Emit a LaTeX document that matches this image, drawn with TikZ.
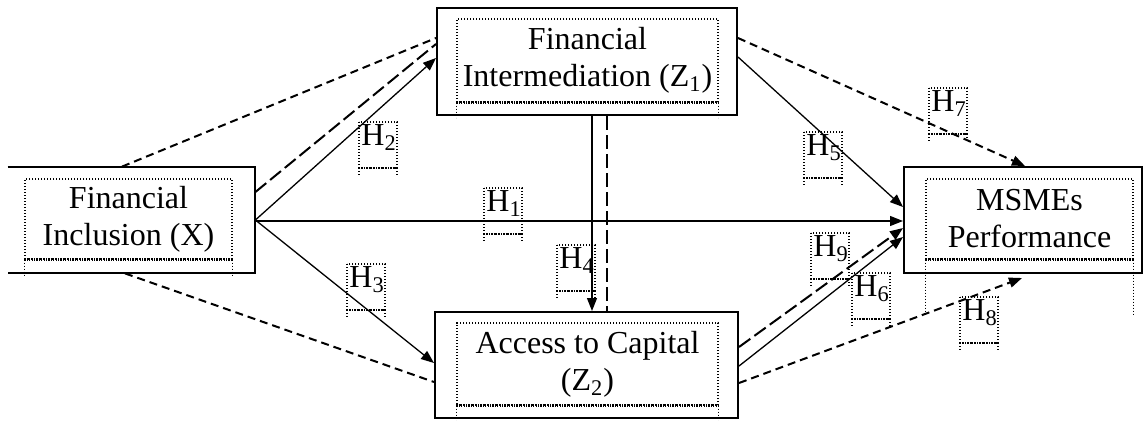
\documentclass[tikz,border=0pt]{standalone}
\usepackage{fontspec}
\setmainfont{Liberation Serif}
\usetikzlibrary{calc}
\usetikzlibrary{arrows.meta}

\tikzset{
  outer/.style={draw,line width=1pt,inner sep=0pt},
  frm/.style={line width=0.7pt,dash pattern=on 0.6pt off 0.9pt},
  frmb/.style={line width=1.4pt,dash pattern=on 0.6pt off 0.6pt},
  txt/.style={draw,frm,align=center,inner sep=0pt,font=\fontsize{16}{18.5}\selectfont},
  hlab/.style={anchor=north west,inner sep=1pt,font=\fontsize{16}{18.5}\selectfont},
  sol/.style={line width=0.65pt,-{Triangle[length=6.5pt,width=5pt]}},
  sdash/.style={line width=1pt,dash pattern=on 4pt off 2.5pt},
  ldash/.style={line width=1pt,dash pattern=on 7pt off 2.5pt},
  tip/.style={-{Triangle[length=6.5pt,width=5pt]}}
}

\begin{document}
\begin{tikzpicture}[x=0.5pt,y=-0.5pt]
\useasboundingbox (0,0) rectangle (1146,420);

% outer boxes
\node[inner sep=0pt,minimum width=123.5pt,minimum height=53pt] (X) at (131.5,220) {};
\draw[line width=1pt] (X.north west)--(X.north east)--(X.south east)--(X.south west);
\node[outer,minimum width=150pt,minimum height=53.5pt] (Z1) at (587,61.5) {};
\node[outer,minimum width=151.5pt,minimum height=53pt] (Z2) at (586.5,365) {};
\node[outer,minimum width=119pt,minimum height=53pt] (Y) at (1023,220) {};

% text frames
\node[txt,minimum width=103.5pt,minimum height=40pt] (Xt) at (128.5,219) {Financial\\Inclusion (X)};
\node[txt,minimum width=130.5pt,minimum height=41.5pt] (Z1t) at (587.5,60.5) {Financial\\Intermediation (Z\textsubscript{1})};
\node[txt,minimum width=130.5pt,minimum height=41pt] (Z2t) at (587.5,364) {Access to Capital\\(Z\textsubscript{2})};
\node[txt,minimum width=103.5pt,minimum height=40pt] (Yt) at (1029.5,219) {MSMEs\\Performance};
\foreach \n/\s in {Xt/16,Z1t/15,Z2t/15,Yt/56}{
  \draw[frmb] (\n.south west)--(\n.south east);
  \draw[frm] (\n.south west)--++(0,\s);
  \draw[frm] (\n.south east)--++(0,\s);
}

% hypothesis labels
\foreach \i/\x/\y in {1/484/188,2/359/122,3/347/264,4/557/245,5/804/132,6/852/273,7/929/88,8/960/297,9/811/233}{
  \node[hlab] (h\i) at (\x,\y) {H\textsubscript{\i}};
  \draw[frm] (\x,\y) rectangle ++(38,46);
  \draw[frmb] (\x,\y+46)--++(38,0);
  \draw[frm] (\x,\y+46)--++(0,8);
  \draw[frm] (\x+38,\y+46)--++(0,8);
}

% X to Z1
\draw[sdash] ($(X.north)+(-9.5,0)$)--($(Z1.west)+(0,-23.5)$);
\draw[ldash] ($(X.east)+(0,-28)$)--($(Z1.west)+(0,-17.5)$);
\draw[sol] (X.east)--($(Z1.west)+(0,-3.5)$);
% X to Z2
\draw[sol] (X.east)--($(Z2.west)+(0,-2)$);
\draw[sdash] ($(X.south)+(-6.5,0)$)--($(Z2.west)+(0,17)$);
% X to Y
\draw[sol] ($(X.east)+(0,1)$)--($(Y.west)+(0,1)$);
% Z1 to Z2
\draw[sol] ($(Z1.south)+(5,0)$)--($(Z2.north)+(5.5,0)$);
\draw[ldash] ($(Z1.south)+(20,0)$)--($(Z2.north)+(20.5,0)$);
% Z1 to Y
\draw[sol] ($(Z1.east)+(0,-4.5)$)--($(Y.west)+(0,-13)$);
\draw[sdash,tip] ($(Z1.east)+(0,-23.5)$)--($(Y.north)+(2,0)$);
% Z2 to Y
\draw[ldash,tip] ($(Z2.east)+(0,-18)$)--($(Y.west)+(0,8)$);
\draw[sol] ($(Z2.east)+(0,1)$)--($(Y.west)+(0,17)$);
\draw[sdash,tip] ($(Z2.east)+(0,18)$)--($(Y.south)+(-1,4)$);
\end{tikzpicture}
\end{document}
